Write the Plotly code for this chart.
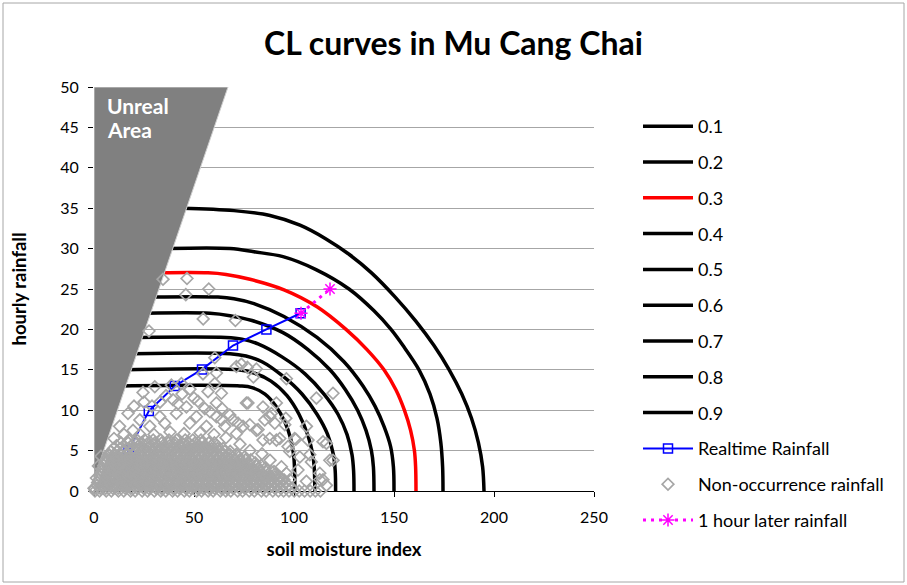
import plotly.graph_objects as go

FONT = "Lato"

# ---- CL curves ----
CL_LEVELS = ["0.1", "0.2", "0.3", "0.4", "0.5", "0.6", "0.7", "0.8", "0.9"]
CL_COLORS = ["#000000", "#000000", "#ff0000", "#000000", "#000000",
             "#000000", "#000000", "#000000", "#000000"]

cl01_x = [44, 70, 88, 103, 116, 127.5, 138.75, 150.6, 161, 170, 177.6, 183.9, 188.75, 192.2, 194.3, 195]
cl01_y = [35, 34.7, 34.1, 32.9, 31.2, 29.3, 27, 24, 21, 18, 15, 12, 9, 6, 3, 0]
cl02_x = [37, 68, 80, 94.5, 111, 127.5, 140, 148.5, 154.5, 162.5, 168, 171.5, 173.4, 174.3, 174.5]
cl02_y = [30, 30, 29.6, 29, 27.4, 25, 22.3, 20, 18, 15, 12, 9, 6, 3, 0]
cl03_x = [33, 57, 66, 78, 95, 111.5, 126, 136.5, 145, 151, 155.2, 158.3, 160.2, 160.8, 161]
cl03_y = [27, 27, 26.8, 26.2, 24.9, 22.8, 20, 17.5, 15, 12.5, 10, 7.5, 5, 3, 0]
cl04_x = [29, 62, 70, 80, 95, 111.5, 125, 134.5, 140.5, 145, 148.3, 149.7, 150]
cl04_y = [24, 24, 23.8, 23.2, 21.6, 19, 16, 13, 10.5, 8, 5.5, 3, 0]
cl05_x = [26, 58, 68, 79, 94.5, 107, 118, 125.8, 131.8, 136, 138.7, 139.7, 140]
cl05_y = [22, 22, 21.7, 21.1, 19.6, 17.5, 15, 12.5, 10, 7.5, 5, 3, 0]
cl06_x = [22, 66, 74, 82, 94, 105.5, 115, 122, 126.5, 129, 129.8, 130]
cl06_y = [19, 19, 18.8, 18.2, 16.6, 14.5, 12, 9.5, 7, 4.5, 2.5, 0]
cl07_x = [19, 68, 76, 84, 94, 104, 111.5, 116.8, 119.7, 120.6, 120.8]
cl07_y = [17, 17, 16.7, 16, 14.3, 12, 9.5, 7, 4.5, 2.5, 0]
cl08_x = [16, 72, 80, 88.5, 96.5, 102.5, 106.8, 109.4, 110.2, 110.4]
cl08_y = [15, 15, 14.6, 13.6, 11.8, 9.5, 7, 4.5, 2.5, 0]
cl09_x = [13, 73, 79, 85.5, 91, 95.5, 98.3, 99.8, 100.3, 100.4]
cl09_y = [13, 13, 12.8, 12, 10.5, 8.5, 6.5, 4.5, 2.5, 0]

CL_X = [cl01_x, cl02_x, cl03_x, cl04_x, cl05_x, cl06_x, cl07_x, cl08_x, cl09_x]
CL_Y = [cl01_y, cl02_y, cl03_y, cl04_y, cl05_y, cl06_y, cl07_y, cl08_y, cl09_y]

# ---- Realtime rainfall ----
rt_x = [15, 17.3, 27.4, 40.4, 54, 69.5, 86.2, 103.3]
rt_y = [3, 5, 9.9, 13, 15.05, 18, 20, 22]

# ---- 1 hour later rainfall ----
later_x = [103.5, 118]
later_y = [22, 25]

# ---- Unreal area polygon vertices ----
unreal_x = [0, 0, 67, 0]
unreal_y = [0, 50, 50, 1.5]

# ---- Non-occurrence rainfall: dense band rows (y, x list) ----
dense_rows = [
    (0.0, [0.5, 2.8, 6.1, 8.7, 12.2, 14.9, 18.3, 20.6, 24.1, 26.8, 30.2, 33.4, 35.9, 39.3, 41.8, 45.2, 47.7,
           51.3, 53.8, 57.1, 59.6, 63.2, 65.9, 68.4, 71.8, 74.3, 77.6, 80.2, 83.7, 86.1, 89.4, 92.2, 94.8,
           97.5, 100.1, 102.6, 105.3, 108.1, 110.7, 113.2]),
    (0.35, [0, 3.1, 5.9, 9.4, 12.1, 15.6, 18.4, 21.5, 24.8, 27.4, 30.9, 33.6, 36.7, 39.5, 42.6, 45.8, 48.4,
            51.7, 54.5, 57.6, 60.3, 63.6, 66.4, 69.5, 72.7, 75.4, 78.6, 81.3, 84.5, 87.6, 90.4, 93.5, 96.2, 99.1]),
    (0.7, [1.6, 4.4, 7.3, 10.1, 13.5, 16.2, 19.4, 22.7, 25.3, 28.6, 31.5, 34.8, 37.2, 40.6, 43.5, 46.3, 49.6,
           52.4, 55.7, 58.3, 61.5, 64.6, 67.2, 70.5, 73.4, 76.1, 79.3, 82.5, 85.2, 88.4, 91.1, 94.3, 97.0]),
    (1.05, [1.8, 4.9, 7.8, 11.0, 13.9, 17.0, 20.1, 23.2, 26.1, 29.4, 32.2, 35.4, 38.3, 41.2, 44.4, 47.3, 50.5,
            53.4, 56.3, 59.5, 62.4, 65.3, 68.6, 71.4, 74.3, 77.5, 80.4, 83.3, 86.6, 89.5, 92.6, 95.5]),
    (1.4, [2.5, 5.6, 8.4, 11.7, 14.3, 17.6, 20.5, 23.4, 26.7, 29.3, 32.6, 35.5, 38.4, 41.7, 44.5, 47.2, 50.6,
           53.3, 56.5, 59.4, 62.3, 65.6, 68.5, 71.3, 74.6, 77.4, 80.3, 83.6, 86.5, 89.2, 92.4, 95.0]),
    (1.75, [3.0, 6.0, 9.1, 12.3, 15.2, 18.4, 21.3, 24.2, 27.5, 30.4, 33.3, 36.5, 39.4, 42.5, 45.4, 48.3, 51.6,
            54.5, 57.4, 60.6, 63.5, 66.4, 69.7, 72.6, 75.5, 78.6, 81.5, 84.6, 87.5, 90.4, 92.8]),
    (2.1, [3.4, 6.5, 9.6, 12.4, 15.7, 18.5, 21.3, 24.6, 27.5, 30.4, 33.7, 36.4, 39.5, 42.3, 45.6, 48.5, 51.4,
           54.6, 57.3, 60.5, 63.4, 66.3, 69.6, 72.4, 75.5, 78.3, 81.6, 84.4, 87.3, 90.5]),
    (2.45, [3.9, 7.0, 10.1, 13.2, 16.1, 19.4, 22.3, 25.2, 28.5, 31.4, 34.3, 37.6, 40.5, 43.4, 46.7, 49.6, 52.5,
            55.8, 58.7, 61.6, 64.9, 67.8, 70.7, 73.9, 76.8, 79.7, 82.9, 85.8, 88.6]),
    (2.8, [4.3, 7.6, 10.5, 13.4, 16.6, 19.5, 22.4, 25.7, 28.4, 31.6, 34.5, 37.3, 40.6, 43.4, 46.5, 49.3, 52.6,
           55.4, 58.5, 61.3, 64.6, 67.5, 70.3, 73.6, 76.4, 79.5, 82.3, 85.6]),
    (3.15, [4.9, 8.0, 11.2, 14.1, 17.3, 20.2, 23.1, 26.4, 29.3, 32.2, 35.5, 38.4, 41.3, 44.6, 47.5, 50.4, 53.7,
            56.6, 59.5, 62.8, 65.7, 68.6, 71.9, 74.8, 77.7, 80.9, 83.5]),
    (3.5, [5.5, 8.6, 11.5, 14.7, 17.4, 20.6, 23.5, 26.4, 29.6, 32.5, 35.3, 38.6, 41.4, 44.5, 47.6, 50.4, 53.5,
           56.3, 59.6, 62.4, 65.5, 68.3, 71.6, 74.4, 77.5, 80.6]),
    (3.85, [6.0, 9.1, 12.1, 15.3, 18.2, 21.1, 24.4, 27.3, 30.2, 33.5, 36.4, 39.3, 42.6, 45.5, 48.4, 51.7, 54.6,
            57.5, 60.8, 63.7, 66.6, 69.9, 72.8, 75.7, 78.4]),
    (4.2, [6.8, 9.7, 12.6, 15.5, 18.7, 21.6, 24.5, 27.4, 30.7, 33.5, 36.6, 39.4, 42.5, 45.7, 48.6, 51.5, 54.4,
           57.6, 60.5, 63.4, 66.6, 69.5, 72.4, 75.3]),
    (4.55, [7.4, 10.3, 13.4, 16.4, 19.3, 22.5, 25.4, 28.3, 31.6, 34.5, 37.4, 40.7, 43.6, 46.5, 49.8, 52.7, 55.6,
            58.9, 61.8, 64.7, 67.9, 71.2]),
    (4.9, [8.5, 11.6, 14.5, 17.8, 20.4, 23.6, 26.5, 29.7, 32.4, 35.6, 38.5, 41.3, 44.6, 47.5, 50.4, 53.6, 56.5,
           59.3, 62.6, 65.4, 68.1]),
    (5.25, [9.8, 13.0, 16.2, 19.5, 22.4, 25.3, 28.6, 31.5, 34.4, 37.7, 40.6, 43.5, 46.8, 49.7, 52.6, 55.9, 58.8,
            61.7, 64.5]),
    (5.6, [11.2, 14.8, 18.6, 22.3, 25.5, 28.4, 31.6, 34.5, 37.7, 40.6, 43.4, 46.7, 49.5, 52.6, 55.4, 58.7, 61.5]),
    (5.95, [13.5, 17.1, 20.4, 23.8, 27.1, 30.5, 33.9, 37.2, 40.6, 43.9, 47.3, 50.6, 54.0, 57.4, 60.2]),
    (6.3, [17.4, 21.5, 25.3, 29.6, 33.4, 37.5, 41.3, 45.6, 49.4, 53.5]),
]

# ---- Non-occurrence rainfall: scattered points (x, y) ----
sparse_x = [46.5, 57.4, 45.9, 54.6, 27.5, 34.5, 70.7, 60.4, 73.7, 76.7, 81.2, 71.2, 54.5, 61.2, 60.4, 63.7,
            24.5, 30.4, 38.7, 43.7, 96.2, 79.7, 111.2, 119.5, 116.2, 119.5, 108.7, 107, 100.3, 102, 106.2,
            114.5, 112.9, 17, 12.8, 19.5, 39.5, 46.2, 52, 55.4, 76.2, 69.5, 74.5, 81.2, 87.9, 84.5, 91.2,
            95.4, 97.9, 71.2, 65.4, 61.2, 51.2, 41.2, 32.9, 35.4, 22.9, 27.9, 47.9, 56.2, 95.9, 100.9, 106.2,
            114.5, 117.9, 102.9, 107.9, 112.9, 116.2, 91.2, 88.7, 84.5, 77, 67.9, 63.7, 61.2, 72, 77.9, 82,
            85.4, 90.4, 92.9, 87.9, 97, 93.7, 96.2, 97.9, 25, 29, 36, 44, 48, 50, 33, 42, 57, 20, 15, 10,
            23, 30, 38, 45, 53, 60, 66, 73, 78, 84, 88, 90, 58, 64, 0.3, 1.2, 2.2, 3.5]
sparse_y = [26.3, 25.0, 24.3, 21.3, 19.8, 26.2, 21.1, 16.5, 15.7, 15.3, 15.1, 15.4, 14.5, 14.6, 13.3, 12.1,
            12.2, 12.9, 13.1, 13.3, 13.9, 14.1, 11.5, 12.1, 5.9, 3.8, 3.6, 6.3, 6.5, 2.6, 1.2,
            1.4, 2.2, 9.6, 8.0, 7.5, 11.3, 10.4, 11.1, 10.2, 10.9, 8.8, 8.0, 7.5, 9.2, 6.3, 6.3,
            8.2, 4.9, 7.1, 8.0, 9.2, 9.2, 9.6, 9.2, 8.4, 8.8, 8.0, 8.4, 8.0, 9.0, 6.4, 8.0,
            6.1, 3.8, 4.2, 4.5, 1.4, 0.7, 10.9, 9.6, 10.4, 10.9, 9.4, 8.8, 10.9, 8.4, 8.2, 7.6,
            8.8, 8.4, 6.5, 6.5, 5.5, 3.0, 2.2, 1.4, 11.0, 10.5, 11.8, 12.0, 12.6, 11.5, 11.0, 10.8, 12.3, 10.5, 7.0, 6.5,
            7.0, 7.0, 7.3, 7.1, 7.2, 7.0, 6.6, 5.8, 5.0, 4.6, 3.8, 2.4, 9.8, 10.2, 0.3, 1.6, 3.1, 4.3]

non_x = [x for _, xs in dense_rows for x in xs] + sparse_x
non_y = [y for y, xs in dense_rows for _ in xs] + sparse_y

fig = go.Figure()

for i, lvl in enumerate(CL_LEVELS):
    fig.add_trace(go.Scatter(
        x=CL_X[i], y=CL_Y[i], mode="lines", name=lvl,
        line=dict(color=CL_COLORS[i], width=3.5, shape="spline", smoothing=1.0),
        legendgroup=f"g{i}", legendrank=i + 1,
    ))

fig.add_trace(go.Scatter(
    x=rt_x, y=rt_y, mode="lines+markers", name="Realtime Rainfall",
    line=dict(color="#0000ff", width=2),
    marker=dict(symbol="square-open", size=9, color="#0000ff", line=dict(width=1.5, color="#0000ff")),
    legendgroup="g9", legendrank=10,
))

fig.add_trace(go.Scatter(
    x=unreal_x, y=unreal_y, mode="lines", fill="toself", fillcolor="#808080",
    line=dict(color="#cfcfcf", width=1), showlegend=False, hoverinfo="skip",
))

fig.add_trace(go.Scatter(
    x=non_x, y=non_y, mode="markers", name="Non-occurrence rainfall",
    marker=dict(symbol="diamond-open", size=9, color="#a6a6a6", line=dict(width=1.7, color="#a6a6a6")),
    cliponaxis=False, legendgroup="g10", legendrank=11,
))

fig.add_trace(go.Scatter(
    x=later_x, y=later_y, mode="lines+markers", name="1 hour later rainfall",
    line=dict(color="#ff00ff", width=3, dash="3px,5px"),
    marker=dict(symbol="asterisk-open", size=11, color="#ff00ff", line=dict(width=1.5, color="#ff00ff")),
    legendgroup="g11", legendrank=12,
))

W, H = 907, 585
L, R, T, B = 94, 313, 87, 94
pw, ph = W - L - R, H - T - B


def px_x(px):
    return (px - L) / pw


def px_y(py):
    return (H - B - py) / ph


fig.update_layout(
    width=W, height=H,
    margin=dict(l=L, r=R, t=T, b=B, autoexpand=False),
    paper_bgcolor="white", plot_bgcolor="white",
    font=dict(family=FONT, color="#000000", size=15),
    title=dict(text="<b>CL curves in Mu Cang Chai</b>", x=0.5, xanchor="center",
               y=1 - 44 / H, yanchor="middle", font=dict(size=32, family=FONT)),
    xaxis=dict(range=[0, 250], tick0=0, dtick=50, showgrid=False, zeroline=False,
               showline=True, linecolor="#000000", linewidth=1, ticks="outside", ticklen=5,
               tickcolor="#000000", tickfont=dict(size=16), layer="below traces",
               ticklabelstandoff=7,
               title=dict(text="<b>soil moisture index</b>", font=dict(size=18.5), standoff=17)),
    yaxis=dict(range=[0, 50], tick0=0, dtick=5, showgrid=True, gridcolor="#a6a6a6", gridwidth=1.3,
               zeroline=False, showline=False, ticks="outside", ticklen=5, tickcolor="#000000",
               tickfont=dict(size=16), layer="below traces", ticklabelstandoff=6,
               title=dict(text="<b>hourly rainfall</b>", font=dict(size=18.5), standoff=28)),
    showlegend=True,
    legend=dict(x=px_x(638), y=px_y(108), xanchor="left", yanchor="top",
                traceorder="grouped", tracegroupgap=9.4, itemwidth=50, maxheight=560,
                font=dict(size=18, family=FONT), bgcolor="rgba(0,0,0,0)"),
    annotations=[
        dict(text="<b>Unreal</b>", x=5.5, y=47.77, xref="x", yref="y",
             xanchor="left", yanchor="middle", showarrow=False,
             font=dict(color="white", size=21, family=FONT)),
        dict(text="<b>Area</b>", x=5.5, y=44.68, xref="x", yref="y",
             xanchor="left", yanchor="middle", showarrow=False,
             font=dict(color="white", size=21, family=FONT)),
    ],
    shapes=[dict(type="rect", xref="paper", yref="paper",
                 x0=px_x(3), x1=px_x(904), y0=px_y(582), y1=px_y(3),
                 line=dict(color="#a6a6a6", width=1), layer="below")],
)

fig.write_html("out.html", config={"displayModeBar": False},
               post_script="document.body.style.margin='0px';")
